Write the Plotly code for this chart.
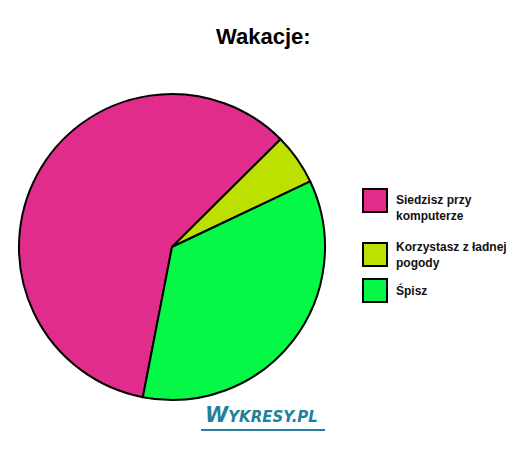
import plotly.graph_objects as go

W, H = 526, 449

labels = ['Siedzisz przy komputerze', 'Korzystasz z ładnej pogody', 'Śpisz']
legend_lines = ['Siedzisz przy<br>komputerze', 'Korzystasz z ładnej<br>pogody', 'Śpisz']
values = [59.5, 5.4, 35.1]
colors = ['#E02D8C', '#BEE000', '#05F846']

# the page puts the figure 8px in from the window corner
OFF = 8


def px(x):
    return (x - OFF) / W


def py(y):
    return 1 - (y - OFF) / H


# pie centre ~ (172, 247), radius ~153 px
cx, cy, r = 172, 247, 153

fig = go.Figure(go.Pie(
    labels=labels,
    values=values,
    sort=False,
    direction='clockwise',
    rotation=191,
    marker=dict(colors=colors, line=dict(color='black', width=2)),
    textinfo='none',
    hoverinfo='label+percent',
    showlegend=False,
    domain=dict(x=[px(cx - r), px(cx + r)], y=[py(cy + r), py(cy - r)]),
))

shapes = []
annotations = [dict(
    text='<b>Wakacje:</b>', x=px(263), y=py(37), xref='paper', yref='paper',
    showarrow=False, xanchor='center', yanchor='middle',
    font=dict(family='Liberation Sans, Arial', size=22, color='black'),
)]

# hand made legend: big boxes with black borders
box_tops = [189, 243, 279]
text_mid = [208, 255, 290]
for i, lab in enumerate(legend_lines):
    shapes.append(dict(
        type='rect', xref='paper', yref='paper',
        x0=px(363), x1=px(387), y0=py(box_tops[i] + 23), y1=py(box_tops[i]),
        fillcolor=colors[i], line=dict(color='black', width=2),
    ))
    annotations.append(dict(
        text='<b>' + lab + '</b>', x=px(394), y=py(text_mid[i]),
        xref='paper', yref='paper', showarrow=False,
        xanchor='left', yanchor='middle', align='left',
        font=dict(family='Liberation Sans, Arial', size=12, color='#111111'),
    ))

# watermark
annotations.append(dict(
    text="<b><i><span style='font-size:21px'>W</span>YKRESY.PL</i></b>",
    x=px(261), y=py(415), xref='paper', yref='paper', showarrow=False,
    xanchor='center', yanchor='middle',
    font=dict(family='DejaVu Sans, Verdana', size=15, color='#22809A'),
))
shapes.append(dict(
    type='line', xref='paper', yref='paper',
    x0=px(201), x1=px(325), y0=py(430), y1=py(430),
    line=dict(color='#22809A', width=2),
))

fig.update_layout(
    width=W, height=H,
    margin=dict(l=0, r=0, t=0, b=0),
    paper_bgcolor='white',
    plot_bgcolor='white',
    shapes=shapes,
    annotations=annotations,
)

fig.write_html('out.html')
